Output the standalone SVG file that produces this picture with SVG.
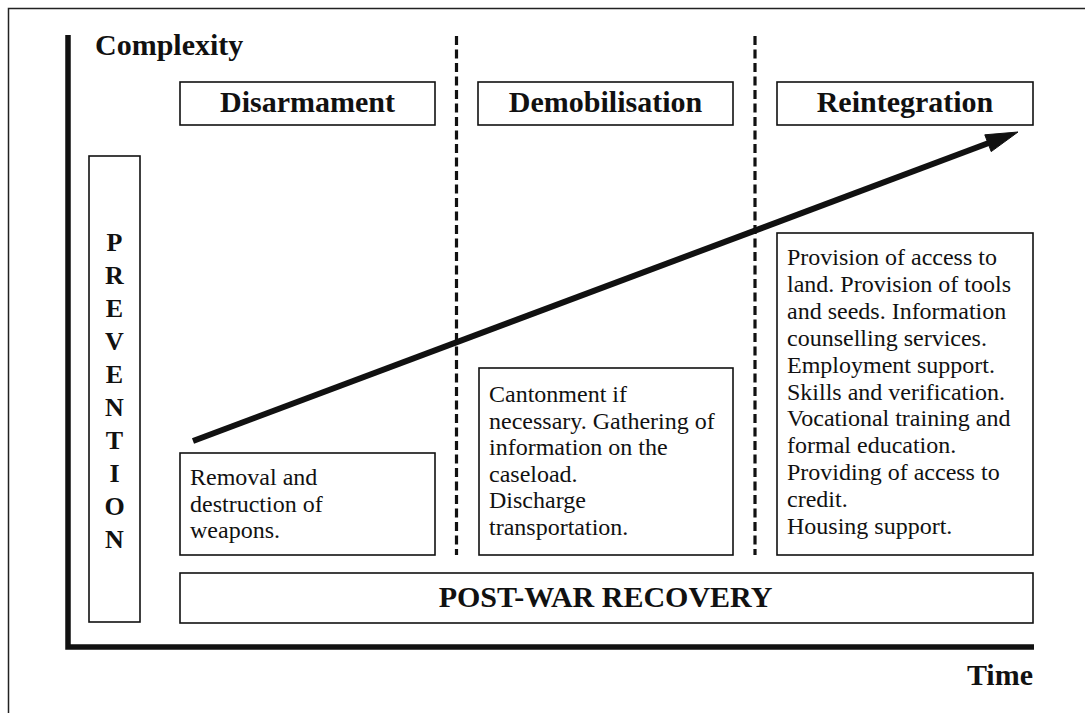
<svg xmlns="http://www.w3.org/2000/svg" width="1085" height="713" viewBox="0 0 1085 713">
<style>
.box{fill:#fff;stroke:#111;stroke-width:1.6}
.hd{font-family:"Liberation Serif","Times New Roman",serif;font-weight:bold;font-size:30px;fill:#111}
.tx{font-family:"Liberation Serif","Times New Roman",serif;font-size:24px;fill:#111}
.pv{font-family:"Liberation Serif","Times New Roman",serif;font-weight:bold;font-size:26px;fill:#111;text-anchor:middle}
.dash{stroke:#111;stroke-width:3.2;stroke-dasharray:9 4.5;fill:none}
.axis{stroke:#111;stroke-width:5.5;fill:none}
</style>
<rect width="1085" height="713" fill="#fff"/>
<g id="frame">
<path d="M8.5,713 V8.5 H1085" fill="none" stroke="#222" stroke-width="1.5"/>
</g>
<g id="axes">
<path class="axis" d="M68,35 V647 H1034"/>
<text class="hd" x="95" y="55">Complexity</text>
<text class="hd" x="1033" y="685" text-anchor="end">Time</text>
</g>
<g id="dividers">
<line class="dash" x1="456.5" y1="36" x2="456.5" y2="555"/>
<line class="dash" x1="755" y1="36" x2="755" y2="555"/>
</g>
<g id="disarmament">
<rect class="box" x="180" y="82" width="255" height="43"/>
<text class="hd" x="307.5" y="112" text-anchor="middle">Disarmament</text>
</g>
<g id="demobilisation">
<rect class="box" x="478" y="82" width="255" height="43"/>
<text class="hd" x="605.5" y="112" text-anchor="middle">Demobilisation</text>
</g>
<g id="reintegration">
<rect class="box" x="777" y="82" width="256" height="43"/>
<text class="hd" x="905" y="112" text-anchor="middle">Reintegration</text>
</g>
<g id="prevention">
<rect class="box" x="89" y="156" width="51" height="466"/>
<text class="pv" x="114.5" y="251">P</text>
<text class="pv" x="114.5" y="284">R</text>
<text class="pv" x="114.5" y="317">E</text>
<text class="pv" x="114.5" y="350">V</text>
<text class="pv" x="114.5" y="383">E</text>
<text class="pv" x="114.5" y="416">N</text>
<text class="pv" x="114.5" y="449">T</text>
<text class="pv" x="114.5" y="482">I</text>
<text class="pv" x="114.5" y="515">O</text>
<text class="pv" x="114.5" y="548">N</text>
</g>
<g id="disarmament-activities">
<rect class="box" x="180" y="453" width="255" height="102"/>
<text class="tx" x="190" y="485">Removal and</text>
<text class="tx" x="190" y="511.5">destruction of</text>
<text class="tx" x="190" y="538">weapons.</text>
</g>
<g id="demobilisation-activities">
<rect class="box" x="479" y="368" width="254" height="187"/>
<text class="tx" x="489" y="402">Cantonment if</text>
<text class="tx" x="489" y="428.6">necessary. Gathering of</text>
<text class="tx" x="489" y="455.2">information on the</text>
<text class="tx" x="489" y="481.8">caseload.</text>
<text class="tx" x="489" y="508.4">Discharge</text>
<text class="tx" x="489" y="535">transportation.</text>
</g>
<g id="reintegration-activities">
<rect class="box" x="777" y="233" width="256" height="322"/>
<text class="tx" x="787" y="265">Provision of access to</text>
<text class="tx" x="787" y="292">land. Provision of tools</text>
<text class="tx" x="787" y="319">and seeds. Information</text>
<text class="tx" x="787" y="346">counselling services.</text>
<text class="tx" x="787" y="373">Employment support.</text>
<text class="tx" x="787" y="399.5">Skills and verification.</text>
<text class="tx" x="787" y="426">Vocational training and</text>
<text class="tx" x="787" y="453">formal education.</text>
<text class="tx" x="787" y="480">Providing of access to</text>
<text class="tx" x="787" y="507">credit.</text>
<text class="tx" x="787" y="534">Housing support.</text>
</g>
<g id="post-war-recovery">
<rect class="box" x="180" y="573" width="853" height="50"/>
<text class="hd" x="605.5" y="607" text-anchor="middle">POST-WAR RECOVERY</text>
</g>
<g id="connectors">
<line x1="193" y1="441" x2="992" y2="141.8" stroke="#111" stroke-width="6"/>
<polygon points="1018,132 991.2,151.6 984.8,134.8" fill="#111" stroke="#111" stroke-width="1" stroke-linejoin="miter"/>
</g>
</svg>
